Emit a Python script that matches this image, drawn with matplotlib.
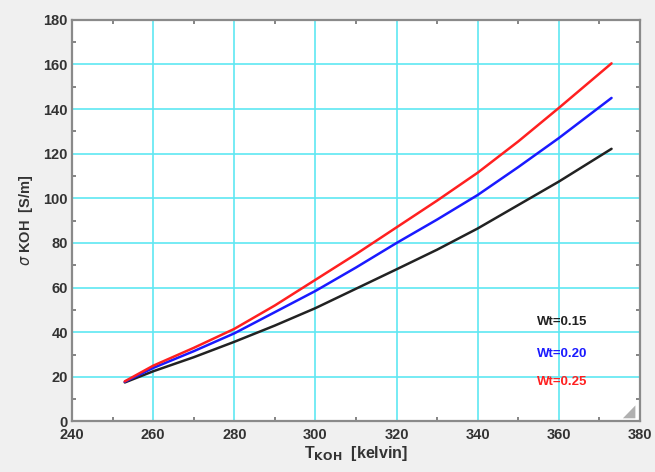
import matplotlib.pyplot as plt
from matplotlib.ticker import MultipleLocator
import numpy as np

plt.rcParams["font.family"] = ["Liberation Sans", "DejaVu Sans"]

T = [253, 260, 270, 280, 290, 300, 310, 320, 330, 340, 350, 360, 373]
sig_015 = [17.5, 22.5, 28.8, 35.7, 43.0, 50.8, 59.5, 68.2, 77.0, 86.5, 97.0, 107.5, 122.2]
sig_020 = [17.8, 24.0, 31.5, 39.5, 49.0, 58.5, 69.0, 80.0, 90.5, 101.5, 114.0, 127.0, 145.0]
sig_025 = [18.0, 25.0, 33.0, 41.5, 52.0, 63.5, 75.0, 87.0, 99.0, 111.5, 125.5, 140.5, 160.5]
labels = ["Wt=0.15", "Wt=0.20", "Wt=0.25"]
colors = ["#222222", "#1a1aff", "#ff2020"]

fig = plt.figure(figsize=(6.55, 4.72), dpi=100, facecolor="#f0f0f0")
ax = fig.add_axes([0.110, 0.107, 0.867, 0.851])
ax.set_facecolor("white")

for ys, c in zip([sig_015, sig_020, sig_025], colors):
    ax.plot(T, ys, color=c, lw=1.8, solid_capstyle="round", solid_joinstyle="round")

ax.set_xlim(240, 380)
ax.set_ylim(0, 180)
ax.xaxis.set_major_locator(MultipleLocator(20))
ax.xaxis.set_minor_locator(MultipleLocator(10))
ax.yaxis.set_major_locator(MultipleLocator(20))
ax.yaxis.set_minor_locator(MultipleLocator(10))
ax.grid(True, which="major", color="#5fe8f2", lw=1.2)
ax.set_axisbelow(True)

ax.tick_params(which="both", direction="in", top=True, right=True,
               colors="#707070", labelcolor="#333333")
ax.tick_params(which="major", length=0, labelsize=10.5)
ax.tick_params(which="minor", length=3, width=1.2)
for lab in ax.get_xticklabels() + ax.get_yticklabels():
    lab.set_fontweight("bold")
ax.tick_params(axis="x", pad=5)
ax.tick_params(axis="y", pad=3)

for s in ax.spines.values():
    s.set_color("#8a8a8a")
    s.set_linewidth(1.6)

ax.set_xlabel(r"T$_{\mathbf{KOH}}$  [kelvin]", fontsize=11.5, fontweight="bold",
              color="#333333", labelpad=1)
ax.set_ylabel(r"$\sigma$ KOH  [S/m]", fontsize=10.5, fontweight="bold",
              color="#333333", labelpad=6)

text_y = [44.6, 30.2, 17.7]
for lab, c, yy in zip(labels, colors, text_y):
    ax.text(354.5, yy, lab, color=c, fontsize=9.5, fontweight="bold",
            ha="left", va="center")

# resize grip in the corner
ax.fill([0.992, 0.992, 0.97], [0.008, 0.04, 0.008], transform=ax.transAxes,
        color="#b0b0b0", lw=0)

fig.savefig("out.png", dpi=100, facecolor=fig.get_facecolor())
